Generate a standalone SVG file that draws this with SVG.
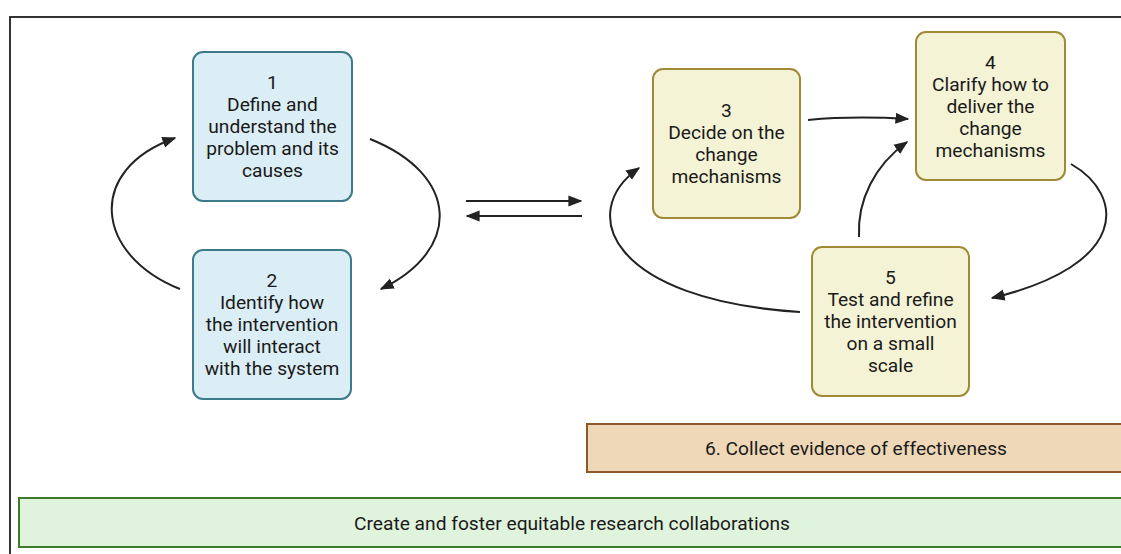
<svg xmlns="http://www.w3.org/2000/svg" width="1121" height="554" viewBox="0 0 1121 554">
<style>
.t{font-family:Roboto,"Liberation Sans",sans-serif;font-size:19.2px;fill:#1a1a1a;text-anchor:middle}
.blue{fill:#dbeef5;stroke:#3d7a8a;stroke-width:2}
.yel{fill:#f5f3d5;stroke:#a08a38;stroke-width:2}
.c{fill:none;stroke:#222;stroke-width:2;marker-end:url(#ah)}
</style>
<defs>
<marker id="ah" viewBox="0 0 10 10" refX="9" refY="5" markerWidth="14" markerHeight="14" orient="auto" markerUnits="userSpaceOnUse">
<path d="M0,1 L10,5 L0,9 z" fill="#222"/>
</marker>
</defs>
<rect width="1121" height="554" fill="#fff"/>
<path d="M10,554 V17 H1121" fill="none" stroke="#333" stroke-width="2"/>
<g id="n1"><rect class="blue" x="193" y="52" width="159" height="149" rx="10"/>
<text class="t"><tspan x="272.5" y="89">1</tspan><tspan x="272.5" y="111">Define and</tspan><tspan x="272.5" y="133">understand the</tspan><tspan x="272.5" y="155">problem and its</tspan><tspan x="272.5" y="177">causes</tspan></text></g>
<g id="n2"><rect class="blue" x="193" y="250" width="158" height="149" rx="10"/>
<text class="t"><tspan x="272" y="287">2</tspan><tspan x="272" y="309">Identify how</tspan><tspan x="272" y="331">the intervention</tspan><tspan x="272" y="353">will interact</tspan><tspan x="272" y="375">with the system</tspan></text></g>
<g id="n3"><rect class="yel" x="653" y="69" width="147" height="149" rx="10"/>
<text class="t"><tspan x="726.5" y="117">3</tspan><tspan x="726.5" y="139">Decide on the</tspan><tspan x="726.5" y="161">change</tspan><tspan x="726.5" y="183">mechanisms</tspan></text></g>
<g id="n4"><rect class="yel" x="916" y="32" width="149" height="148" rx="10"/>
<text class="t"><tspan x="990.5" y="69">4</tspan><tspan x="990.5" y="91">Clarify how to</tspan><tspan x="990.5" y="113">deliver the</tspan><tspan x="990.5" y="135">change</tspan><tspan x="990.5" y="157">mechanisms</tspan></text></g>
<g id="n5"><rect class="yel" x="812" y="247" width="157" height="149" rx="10"/>
<text class="t"><tspan x="890.5" y="284">5</tspan><tspan x="890.5" y="306">Test and refine</tspan><tspan x="890.5" y="328">the intervention</tspan><tspan x="890.5" y="350">on a small</tspan><tspan x="890.5" y="372">scale</tspan></text></g>
<g id="n6"><rect x="587" y="424" width="540" height="48" fill="#eed8b8" stroke="#8a5a2c" stroke-width="2"/>
<text class="t" x="856" y="455">6. Collect evidence of effectiveness</text></g>
<g id="n7"><rect x="19" y="498" width="1110" height="49" fill="#e0f3dc" stroke="#3f7a2a" stroke-width="2"/>
<text class="t" x="572" y="530">Create and foster equitable research collaborations</text></g>
<g id="connectors">
<path class="c" d="M180,289 C95,255 85,170 175,138"/>
<path class="c" d="M370,139 C460,175 462,250 381,289"/>
<path class="c" d="M466,201 H581"/>
<path class="c" d="M582,216 H467"/>
<path class="c" d="M808,120 C840,117 875,117 908,119"/>
<path class="c" d="M800,312 C610,300 576,212 639,168"/>
<path class="c" d="M859,237 C857,200 875,165 907,142"/>
<path class="c" d="M1071,164 C1125,195 1130,265 992,298"/>
</g>
</svg>
